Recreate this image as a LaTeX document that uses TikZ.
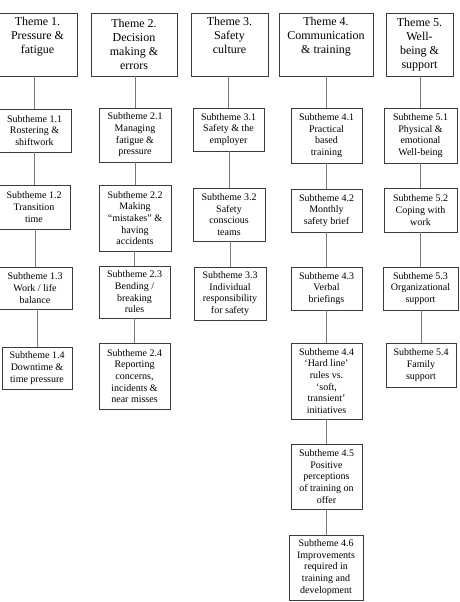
\documentclass[tikz,border=0pt]{standalone}
\usepackage{fontspec}
\setmainfont{Liberation Serif}
\usepackage{xcolor}
\usepackage{tikz}
\definecolor{frame}{HTML}{3C3C3C}
\definecolor{link} {HTML}{7A7A7A}

\begin{document}
\begin{tikzpicture}[x=1pt,y=1pt,
    theme/.style={draw=frame, line width=0.8pt, align=center, minimum height=63pt,
                  inner sep=2pt, font=\fontsize{12}{14}\selectfont},
    sub/.style={draw=frame, line width=0.8pt, align=center, inner sep=2pt,
                font=\fontsize{10}{11.7}\selectfont},
    link/.style={draw=link, line width=0.6pt}]
  \clip (0,0) rectangle (459,-602);
  % top row of themes
  \node[theme, minimum width=79pt] (t1) at (37.5,-44.5) {Theme 1.\\Pressure \&\\fatigue\\\strut};
  \node[theme, minimum width=86pt] (t2) at (134,-44.5)  {Theme 2.\\Decision\\making \&\\errors};
  \node[theme, minimum width=77pt] (t3) at (229.5,-44.5) {Theme 3.\\Safety\\culture\\\strut};
  \node[theme, minimum width=94pt] (t4) at (326,-44.5)  {Theme 4.\\Communication\\\& training\\\strut};
  \node[theme, minimum width=67pt] (t5) at (419.5,-44.5) {Theme 5.\\Well-\\being \&\\support};

  % theme 1
  \node[sub, minimum width=73pt, minimum height=43pt] (s11) at (34.5,-130.5) {Subtheme 1.1\\Rostering \&\\shiftwork};
  \node[sub, minimum width=72pt, minimum height=44pt] (s12) at (34,-207)   {Subtheme 1.2\\Transition\\time};
  \node[sub, minimum width=74pt, minimum height=42pt] (s13) at (35,-288)   {Subtheme 1.3\\Work / life\\balance};
  \node[sub, minimum width=70pt, minimum height=42pt] (s14) at (37,-368)   {Subtheme 1.4\\Downtime \&\\time pressure};

  % theme 2
  \node[sub, minimum width=72pt, minimum height=54pt] (s21) at (135,-135)   {Subtheme 2.1\\Managing\\fatigue \&\\pressure};
  \node[sub, minimum width=72pt, minimum height=66pt] (s22) at (135,-218)   {Subtheme 2.2\\Making\\“mistakes” \&\\having\\accidents};
  \node[sub, minimum width=71pt, minimum height=52pt] (s23) at (134.5,-292) {Subtheme 2.3\\Bending /\\breaking\\rules};
  \node[sub, minimum width=71pt, minimum height=66pt] (s24) at (134.5,-376) {Subtheme 2.4\\Reporting\\concerns,\\incidents \&\\near misses};

  % theme 3
  \node[sub, minimum width=71pt, minimum height=43pt] (s31) at (228.5,-129.5) {Subtheme 3.1\\Safety \& the\\employer};
  \node[sub, minimum width=72pt, minimum height=53pt] (s32) at (229,-214.5)   {Subtheme 3.2\\Safety\\conscious\\teams};
  \node[sub, minimum width=72pt, minimum height=53pt] (s33) at (230,-293.5)   {Subtheme 3.3\\Individual\\responsibility\\for safety};

  % theme 4
  \node[sub, minimum width=71pt, minimum height=55pt] (s41) at (326.5,-135.5) {Subtheme 4.1\\Practical\\based\\training};
  \node[sub, minimum width=71pt, minimum height=43pt] (s42) at (326.5,-210.5) {Subtheme 4.2\\Monthly\\safety brief};
  \node[sub, minimum width=71pt, minimum height=43pt] (s43) at (326.5,-288.5) {Subtheme 4.3\\Verbal\\briefings};
  \node[sub, minimum width=71pt, minimum height=76pt] (s44) at (326.5,-381)   {Subtheme 4.4\\‘Hard line’\\rules vs.\\‘soft,\\transient’\\initiatives};
  \node[sub, minimum width=71pt, minimum height=65pt] (s45) at (326.5,-476.5) {Subtheme 4.5\\Positive\\perceptions\\of training on\\offer};
  \node[sub, minimum width=74pt, minimum height=65pt] (s46) at (326,-567.5)   {Subtheme 4.6\\Improvements\\required in\\training and\\development};

  % theme 5
  \node[sub, minimum width=73pt, minimum height=55pt] (s51) at (420.5,-135.5) {Subtheme 5.1\\Physical \&\\emotional\\Well-being};
  \node[sub, minimum width=73pt, minimum height=44pt] (s52) at (420.5,-210)   {Subtheme 5.2\\Coping with\\work};
  \node[sub, minimum width=75pt, minimum height=43pt] (s53) at (420.5,-288.5) {Subtheme 5.3\\Organizational\\support};
  \node[sub, minimum width=70pt, minimum height=44pt] (s54) at (421,-365)     {Subtheme 5.4\\Family\\support};

  % connectors
  \draw[link] (s11.north) -- (s11.north |- t1.south);
  \draw[link] (s12.north) -- (s12.north |- s11.south);
  \draw[link] (s13.north) -- (s13.north |- s12.south);
  \draw[link] (s14.north) -- (s14.north |- s13.south);
  \draw[link] (s21.north) -- (s21.north |- t2.south);
  \draw[link] (s22.north) -- (s22.north |- s21.south);
  \draw[link] (s23.north) -- (s23.north |- s22.south);
  \draw[link] (s24.north) -- (s24.north |- s23.south);
  \draw[link] (s31.north) -- (s31.north |- t3.south);
  \draw[link] (s32.north) -- (s32.north |- s31.south);
  \draw[link] (s33.north) -- (s33.north |- s32.south);
  \draw[link] (s41.north) -- (s41.north |- t4.south);
  \draw[link] (s42.north) -- (s42.north |- s41.south);
  \draw[link] (s43.north) -- (s43.north |- s42.south);
  \draw[link] (s44.north) -- (s44.north |- s43.south);
  \draw[link] (s45.north) -- (s45.north |- s44.south);
  \draw[link] (s46.north) -- (s46.north |- s45.south);
  \draw[link] (s51.north) -- (s51.north |- t5.south);
  \draw[link] (s52.north) -- (s52.north |- s51.south);
  \draw[link] (s53.north) -- (s53.north |- s52.south);
  \draw[link] (s54.north) -- (s54.north |- s53.south);
\end{tikzpicture}
\end{document}
